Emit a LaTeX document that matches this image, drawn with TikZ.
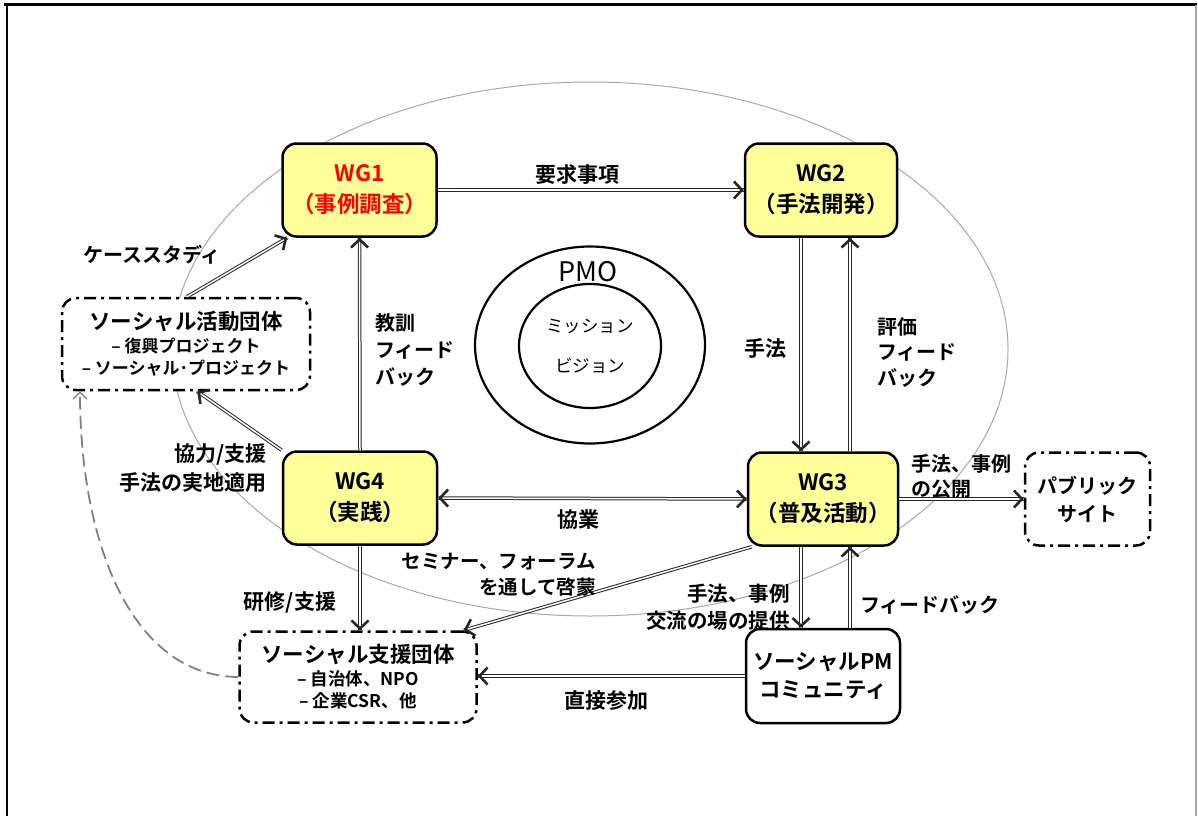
\documentclass[tikz,border=0pt]{standalone}
\usepackage{fontspec}
\setmainfont{Noto Sans CJK JP}[BoldFont={Noto Sans CJK JP Bold}]
\usetikzlibrary{arrows.meta,decorations.markings,shapes.geometric,calc}
\definecolor{wgyellow}{HTML}{FFFF99}
\definecolor{wgred}{HTML}{FF0000}
\definecolor{ringgray}{HTML}{A8A8A8}
\definecolor{dashgray}{HTML}{808080}
\tikzset{
 tipA/.tip={Straight Barb[length=8pt,width=17pt,line width=2.6pt]},
 dline/.style={draw=black!85, line width=1pt, double=white, double distance=1.5pt},
 endtip/.style={postaction={decorate,decoration={markings,mark=at position 1 with {\arrow{tipA}}}}},
 starttip/.style={postaction={decorate,decoration={markings,mark=at position 0 with {\arrowreversed{tipA}}}}},
 arr/.style={dline,endtip},
 wgbox/.style={draw=black, line width=2.5pt, fill=wgyellow, rounded corners=14pt, minimum width=154pt, minimum height=93pt, align=center, inner sep=0pt, font=\fontsize{22.5}{31}\selectfont\bfseries},
 grpbox/.style={draw=black, line width=2.5pt, fill=white, rounded corners=14pt, dash pattern=on 12pt off 5pt on 3pt off 5pt, align=center, inner sep=0pt},
 pmbox/.style={draw=black, line width=2.5pt, fill=white, rounded corners=14pt, align=center, inner sep=0pt},
 lbl/.style={font=\fontsize{21}{26}\selectfont\bfseries, inner sep=0pt},
 ring/.style={ellipse, draw=black, line width=2.2pt, inner sep=0pt},
}
\begin{document}
\begin{tikzpicture}[x=1pt,y=-1pt]
\useasboundingbox (0,0) rectangle (1198,816);
% frame
\draw[line width=3pt] (4,5) -- (1197,5);
\draw[line width=2.5pt] (7,5) -- (7,816);
\draw[line width=2.5pt, ringgray] (1196,5) -- (1196,816);
% big gray ellipse
\draw[ringgray, line width=1pt] (590,349) ellipse [x radius=418pt, y radius=267pt];
% PMO
\node[ring, minimum width=230pt, minimum height=197pt] (pmo) at (590,345) {};
\node[font=\fontsize{27}{30}\selectfont, inner sep=0pt] (pmot) at (588,272) {PMO};
\node[ring, minimum width=142pt, minimum height=124pt, align=center, font=\fontsize{17.5}{40}\selectfont] (mv) at (590,346) {ミッション\\ビジョン};
% WG boxes
\node[wgbox, text=wgred] (wg1) at (359.5,190) {WG1\\（事例調査）};
\node[wgbox, minimum width=152pt] (wg2) at (821,190) {WG2\\（手法開発）};
\node[wgbox] (wg4) at (360,498) {WG4\\（実践）};
\node[wgbox, minimum width=150pt] (wg3) at (823,499) {WG3\\（普及活動）};
% other boxes
\node[grpbox, minimum width=248pt, minimum height=92pt, font=\fontsize{17}{22}\selectfont\bfseries] (sa) at (186,344)
 {{\fontsize{21.5}{25}\selectfont ソーシャル活動団体}\\[1pt]
  – 復興プロジェクト\\
  – ソーシャル･プロジェクト};
\node[grpbox, minimum width=237pt, minimum height=91pt, font=\fontsize{17.5}{22}\selectfont\bfseries] (ss) at (358,677)
 {{\fontsize{21.5}{25}\selectfont ソーシャル支援団体}\\[1pt]
  – 自治体、NPO\\
  – 企業CSR、他};
\node[pmbox, minimum width=154pt, minimum height=94pt, font=\fontsize{21.5}{28}\selectfont\bfseries] (pm) at (823,676) {ソーシャルPM\\コミュニティ};
\node[grpbox, minimum width=125pt, minimum height=93pt, font=\fontsize{20}{28}\selectfont\bfseries] (ps) at (1087.5,499) {パブリック\\サイト};
% connectors
\draw[arr] (wg1.east) -- (wg2.west);
\draw[arr] ([xshift=-20pt]wg2.south) -- ([xshift=-22pt]wg3.north);
\draw[arr] ([xshift=27pt]wg3.north) -- ([xshift=29pt]wg2.south);
\draw[arr] (wg4.north) -- (wg1.south);
\draw[dline,endtip,starttip] (wg4.east) -- (wg3.west);
\draw[arr] (wg3.east) -- (ps.west);
\draw[arr] ([xshift=-22pt]wg3.south) -- ([xshift=-22pt]pm.north);
\draw[arr] ([xshift=27pt]pm.north) -- ([xshift=27pt]wg3.south);
\draw[arr] (pm.west) -- (pm.west -| ss.east);
\draw[arr] ([xshift=5pt]wg3.south west) -- ([xshift=-14pt]ss.north east);
\draw[arr] (wg4.south) -- (wg4.south |- ss.north);
\draw[arr] (wg4.north west) -- ([xshift=11pt]sa.south);
\draw[arr] ([xshift=1pt]sa.north) -- ([xshift=6pt]wg1.south west);
\draw[dashgray, line width=1.8pt, dash pattern=on 13pt off 6pt, -{Straight Barb[length=7pt,width=14pt,line width=1.4pt]}]
 (ss.west) .. controls (130,676) and (80,540) .. ([xshift=-106pt]sa.south);
% labels
\node[lbl] (l1) at (577,175) {要求事項};
\node[lbl] (l2) at (765,348) {手法};
\node[lbl, align=left, anchor=west, font=\fontsize{20}{25.5}\selectfont\bfseries] (l3) at (877,352) {評価\\フィード\\バック};
\node[lbl, align=left, anchor=west, font=\fontsize{20}{27}\selectfont\bfseries] (l4) at (375,350) {教訓\\フィード\\バック};
\node[lbl] (l5) at (578,520) {協業};
\node[lbl, align=left, anchor=west, font=\fontsize{20}{25}\selectfont\bfseries] (l6) at (911,476) {手法、事例\\の公開};
\node[lbl, font=\fontsize{20}{26}\selectfont\bfseries] (l7) at (930,605) {フィードバック};
\node[lbl, align=right, anchor=east, font=\fontsize{20.5}{27}\selectfont\bfseries] (l8) at (790,607) {手法、事例\\交流の場の提供};
\node[lbl] (l9) at (606,700) {直接参加};
\node[lbl, align=right, anchor=east, font=\fontsize{19.5}{26}\selectfont\bfseries] (l10) at (596,575) {セミナー、フォーラム\\を通して啓蒙};
\node[lbl] (l11) at (290,602) {研修/支援};
\node[lbl, align=right, anchor=east, font=\fontsize{21}{29}\selectfont\bfseries] (l12) at (267,468) {協力/支援\\手法の実地適用};
\node[lbl, font=\fontsize{20}{26}\selectfont\bfseries] (l13) at (152,255) {ケーススタディ};
\end{tikzpicture}
\end{document}
